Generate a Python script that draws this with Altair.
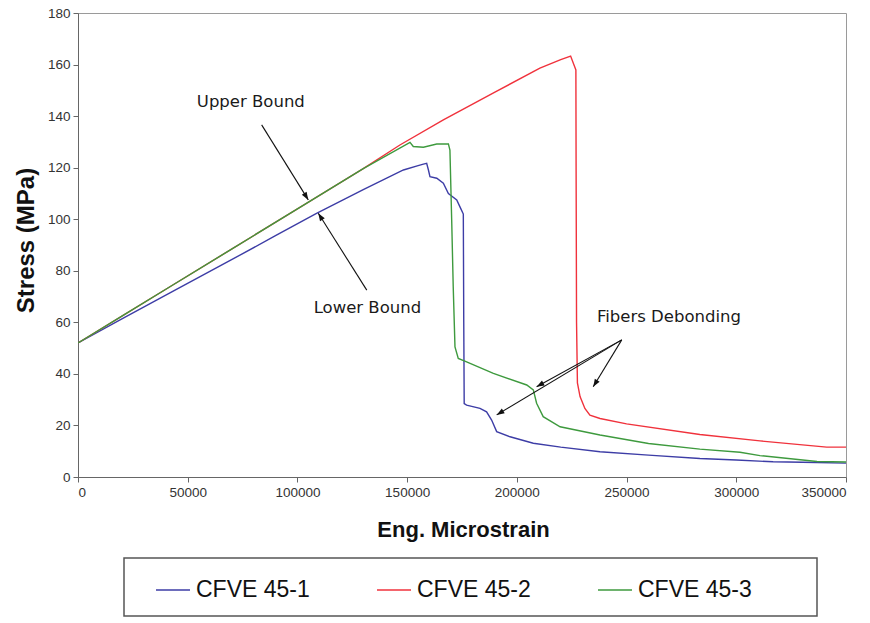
import math
import altair as alt
import pandas as pd

# ---------------- data ----------------
series_names = ["CFVE 45-1", "CFVE 45-2", "CFVE 45-3"]
series_colors = ["#3d3da6", "#f0323c", "#3e9a3e"]

strain_1 = [0, 20000, 41900, 70000, 90000, 108700, 130000, 148300, 155000, 157400,
            158900, 159700, 160400, 163500, 166500, 168800, 172600, 174500, 175600,
            175800, 176000, 177100, 183200, 186200, 188500, 190800, 196900, 207500,
            220000, 237900, 260000, 283400, 300000, 316800, 336800, 350000]
stress_1 = [52, 61.3, 71.4, 84.3, 93.6, 102.3, 111.5, 119.1, 120.8, 121.4,
            121.7, 119.1, 116.5, 115.9, 114.0, 110.0, 107.5, 104.0, 102.0,
            60.0, 28.5, 27.9, 26.6, 25.3, 22.1, 17.6, 15.6, 13.1,
            11.6, 9.8, 8.5, 7.2, 6.6, 5.9, 5.6, 5.4]

strain_2 = [0, 20000, 41900, 70000, 100000, 130000, 146700, 166500, 190000, 210500,
            220000, 224500, 226900, 227000, 227200, 227600, 228800, 231000, 233300,
            237900, 250000, 283400, 310800, 341200, 350000]
stress_2 = [52, 62.4, 73.8, 88.4, 104, 119.6, 128.8, 138.5, 149.3, 158.6,
            161.9, 163.3, 157.9, 120, 60, 36.5, 31.2, 26.6, 24.0,
            22.7, 20.6, 16.5, 14.0, 11.6, 11.6]

strain_3 = [0, 20000, 41900, 70000, 100000, 130000, 151300, 152800, 157400, 163500,
            168800, 169500, 170300, 171000, 171800, 173300, 177100, 189300, 204500,
            207500, 209000, 212000, 219700, 237900, 260000, 283400, 301700, 310800,
            336800, 350000]
stress_3 = [52, 62.4, 73.8, 88.4, 104, 119.6, 129.8, 128.2, 127.9, 129.2,
            129.2, 126.8, 99.7, 73.8, 50.5, 46.0, 44.7, 40.2, 35.7,
            33.8, 28.6, 23.4, 19.5, 16.3, 13.0, 10.8, 9.6, 8.3,
            6.0, 5.8]

x_ticks = [0, 50000, 100000, 150000, 200000, 250000, 300000, 350000]
y_ticks = [0, 20, 40, 60, 80, 100, 120, 140, 160, 180]

note_labels = ["Upper Bound", "Lower Bound", "Fibers Debonding"]
note_x = [78750, 131900, 269300]
note_y = [145.6, 65.6, 62.1]

arrow_x_from = [83700, 131600, 247800, 247800, 247800]
arrow_y_from = [136.6, 72.5, 53.2, 53.2, 53.2]
arrow_x_to = [104950, 109500, 209000, 190800, 234800]
arrow_y_to = [107.5, 102.3, 35.0, 24.1, 35.0]

# ---------------- layout ----------------
PLOT_W, PLOT_H = 768, 464
X_MAX, Y_MAX = 350000, 180

rows = []
for name, xs, ys in zip(series_names, [strain_1, strain_2, strain_3],
                        [stress_1, stress_2, stress_3]):
    for i, (xv, yv) in enumerate(zip(xs, ys)):
        rows.append({"series": name, "strain": xv, "stress": yv, "idx": i})
curves = pd.DataFrame(rows)

notes = pd.DataFrame({"label": note_labels, "x": note_x, "y": note_y})

angles = []
for x0, y0, x1, y1 in zip(arrow_x_from, arrow_y_from, arrow_x_to, arrow_y_to):
    sx = (x1 - x0) * PLOT_W / X_MAX
    sy = -(y1 - y0) * PLOT_H / Y_MAX
    angles.append(math.degrees(math.atan2(sx, -sy)) % 360)
arrows = pd.DataFrame({"x0": arrow_x_from, "y0": arrow_y_from,
                       "x1": arrow_x_to, "y1": arrow_y_to, "angle": angles})

x_scale = alt.Scale(domain=[0, X_MAX], nice=False, zero=False)
y_scale = alt.Scale(domain=[0, Y_MAX], nice=False)
X_TITLE = "Eng. Microstrain"
Y_TITLE = "Stress (MPa)"

x_axis = alt.Axis(values=x_ticks, format="d", title=X_TITLE, titleX=385, titleY=59,
                  titleAlign="center", titleBaseline="alphabetic", titleFontSize=22)
y_axis = alt.Axis(values=y_ticks, format="d", title=Y_TITLE, titleX=-52, titleY=227,
                  titleAngle=270, titleAlign="center", titleBaseline="middle",
                  titleFontSize=24)

# blank (non-whitespace) filler so the legend frame reaches as far right as the original
filler = "\u2800" * 3
legend = alt.Legend(
    orient="none", legendX=46, legendY=545, direction="horizontal", columns=3,
    title="\u2800", titleOrient="left", titleFontSize=2, titlePadding=16,
    symbolType="stroke", symbolSize=1156, symbolStrokeWidth=1.5,
    labelFont="Liberation Sans, Arial, sans-serif", labelFontSize=23, labelColor="#111",
    labelOffset=5, labelLimit=400, columnPadding=64, padding=14,
    strokeColor="#555",
    labelExpr=f"datum.label == 'CFVE 45-3' ? datum.label + '{filler}' : datum.label",
)

lines = alt.Chart(curves).mark_line(strokeWidth=1.4, clip=True).encode(
    x=alt.X("strain:Q", scale=x_scale, axis=x_axis),
    y=alt.Y("stress:Q", scale=y_scale, axis=y_axis),
    color=alt.Color("series:N", scale=alt.Scale(domain=series_names, range=series_colors),
                    legend=legend),
    order=alt.Order("idx:Q"),
)

rules = alt.Chart(arrows).mark_rule(color="#111", strokeWidth=1.1).encode(
    x=alt.X("x0:Q", scale=x_scale, title=X_TITLE),
    y=alt.Y("y0:Q", scale=y_scale, title=Y_TITLE),
    x2="x1:Q",
    y2="y1:Q",
)

heads = alt.Chart(arrows).mark_point(
    shape="M0,0L-0.8,2.2L0.8,2.2Z", filled=True, color="#111", opacity=1, size=49
).encode(
    x=alt.X("x1:Q", scale=x_scale, title=X_TITLE),
    y=alt.Y("y1:Q", scale=y_scale, title=Y_TITLE),
    angle=alt.Angle("angle:Q", scale=None),
)

texts = alt.Chart(notes).mark_text(
    font="DejaVu Sans", fontSize=16.5, color="#1a1a1a", align="center", baseline="middle"
).encode(
    x=alt.X("x:Q", scale=x_scale, title=X_TITLE),
    y=alt.Y("y:Q", scale=y_scale, title=Y_TITLE),
    text="label:N",
)

chart = alt.layer(lines, rules, heads, texts).properties(
    width=PLOT_W, height=PLOT_H,
    autosize=alt.AutoSizeParams(type="none"),
    padding={"left": 78, "top": 13, "right": 24, "bottom": 146},
    background="white",
).configure_view(
    stroke="#9a9a9a", strokeWidth=1
).configure_axis(
    grid=False, domainColor="#666", tickColor="#666", tickSize=5,
    labelFont="Liberation Sans, Arial, sans-serif", labelFontSize=13.5, labelColor="#333",
    labelPadding=3,
    titleFont="Liberation Sans, Arial, sans-serif", titleFontWeight="bold", titleColor="#111",
).configure_legend(
    strokeWidth=1.5
)

chart.save("out.html", embed_options={"renderer": "svg", "actions": False})
